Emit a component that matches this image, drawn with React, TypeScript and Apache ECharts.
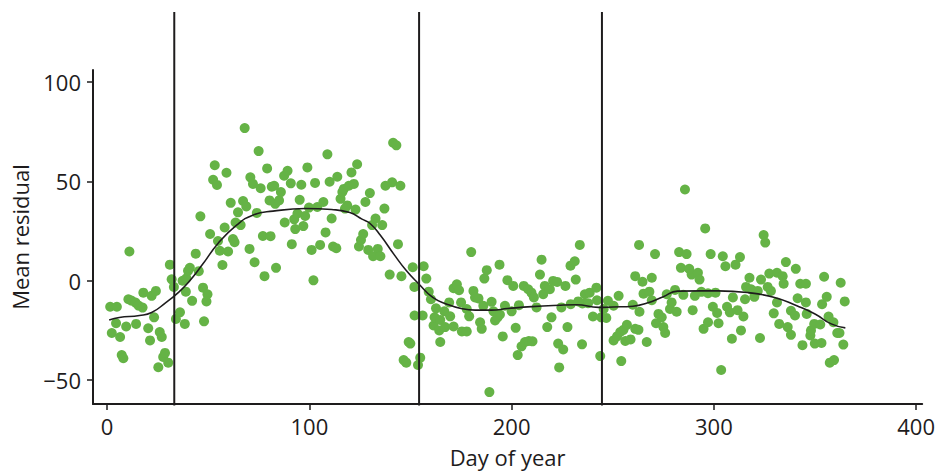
import React, { useEffect, useRef } from "react";
import * as echarts from "echarts";

// [day of year, mean residual]
const residualPoints: number[][] = [
  [1.5,-13.1],[2.3,-26.3],[4.4,-21.4],[4.8,-13.1],[6.4,-28.3],[7.2,-37.4],[8,-39],[9.4,-23],[10.5,-9.3],[11,14.7],[12,-10],[14,-11],[14.3,-21.7],[15.5,-12.5],[17.5,-13.5],[17.9,-6],[20.3,-23.9],[21.2,-30],[22,-7.6],[23.2,-18.4],[24.1,-5.1],[25.3,-43.5],[26,-25.8],[27,-28.3],[27.7,-38.3],[28.6,-36.3],[30.2,-41.2],[31,8.1],[31.9,0.7],[33,-3.1],[34,-19.2],[36,-15.9],[37.3,0],[38.4,-21.7],[38.9,-5.5],[39.2,1.2],[40,5],[40.9,6.5],[42,-10.1],[43.8,13.6],[45.3,4.8],[46.1,32.4],[47.4,-3.5],[47.9,-20.4],[49.1,-10.4],[49.6,-6.8],[50.9,23.5],[52.4,50.8],[53.2,58.1],[54.3,48.2],[54.8,20],[55.7,15.1],[57,7.9],[58.1,26.8],[59,54.3],[59.8,14.7],[61.1,39.2],[62.2,21],[63,19.4],[63.5,29.3],[64.7,34.4],[66,28],[67.2,40.1],[68,76.8],[68.8,37.4],[70.4,16],[70.8,52],[72.1,48.7],[72.9,9.3],[74,34.1],[74.9,65.2],[75.9,46.5],[77,22.5],[77.8,2.3],[79.1,56.5],[80.3,40.4],[80.8,22.4],[81.4,47.3],[82.6,47.8],[83.1,38.7],[83.5,6.5],[85,40.4],[85.9,44.6],[87.5,52.8],[87.8,29.3],[89.2,55.3],[90.8,49],[91.3,18.4],[92.5,30.9],[93,26],[94.1,33.8],[95.2,40.7],[96,48.3],[97,27.5],[97.9,32.6],[99,57],[99.8,36.8],[101.1,15.5],[102,0.2],[102.8,49.2],[103.9,37.1],[105.3,18],[106.9,39.6],[108,24.3],[108.9,63.6],[110,49.8],[111,31.3],[111.7,17.2],[113.3,16.4],[113.8,52.3],[115.4,41.2],[116.3,44.6],[117,46.2],[117.6,36.3],[118.7,37.9],[119.5,47.8],[120.8,54.5],[122,48.7],[122.8,35.8],[123.6,58.6],[124.5,17.2],[125.5,20.5],[126.6,23.5],[127.7,39.6],[129.1,15.5],[129.9,44.1],[131,28],[131.5,12.3],[132.7,31.3],[133.8,16],[135.1,12.3],[136,28],[137.1,36.3],[137.6,47.8],[139.7,3.1],[140.9,49.5],[141.4,69.4],[143,68.1],[143.8,18.4],[145,47.8],[145.5,2.3],[146.6,-39.9],[147.9,-41.2],[149.1,-30.8],[149.9,-31.6],[151.1,6.8],[151.9,-3.1],[152,-17.5],[153.7,-42.4],[154.8,-38.7],[156,-17.5],[156.5,7.3],[157.8,1.1],[159,-5.5],[160.1,-9.3],[161.4,-22.5],[161.9,-18.4],[162.6,-13.9],[164.2,-25],[164.7,-19.7],[164.7,-30.8],[166.7,-15.4],[167.1,-23.3],[169.1,-10.9],[169.6,-17.9],[171.3,-23],[171.3,-3.8],[172.9,-1.8],[174,-4.8],[175,-10.9],[175.4,-25.5],[177.8,-14.2],[177.8,-25.5],[179,-17.9],[180,14.4],[181.1,-5.1],[181.9,-8.4],[183.6,-8.9],[184.4,-20.9],[185.2,-24.2],[186,-12.6],[186.5,1.1],[187.7,5.3],[189,-56],[190.1,-10.6],[191,-15.4],[191.8,-20],[193.1,-18.4],[194,8.1],[194.2,-17],[195.6,-28],[196.7,-12.6],[197.9,0.3],[200,-15.4],[200.8,-2.6],[202,-23.7],[203,-37.4],[203.6,-12.3],[204.9,-33],[206,-2.6],[206.6,-30.8],[208.2,-4.3],[208.5,-30.3],[209.8,-6],[210.3,-30.5],[211,-8.4],[212.3,-13.4],[214,3.1],[214.8,10.6],[215.6,-6.8],[216.4,-2.6],[217.6,-23.3],[218.9,-4.3],[219.7,-18.4],[220.5,-0.1],[222.5,-0.6],[223,-31.6],[223.5,-43.6],[224.6,-13.4],[225.5,-34.6],[226.6,-2.6],[227.6,-23.3],[229.1,7.6],[229.2,-11.8],[231.2,9.8],[231.7,0.6],[232.9,-10.4],[233.7,18],[234.8,-32],[235,-11.4],[236.2,-6.8],[237.8,-11.3],[238.6,-6],[240.2,-18],[241.9,-3.5],[242.2,-9.8],[243.8,-37.9],[244.3,-18.4],[245.5,-14.2],[246.8,-18.7],[247.6,-10.1],[250.4,-12.6],[250.4,-30],[252.1,-28],[252.9,-7.6],[253.7,-25.8],[254.2,-40.4],[255.3,-24.7],[256.2,-30.3],[257,-22.2],[258.8,-29.5],[259.9,-12.1],[261.1,2.3],[261.1,-24.2],[262.7,-24.7],[263,18],[263.2,-15.6],[264.7,-0.5],[265.2,-6.5],[266.8,-30.8],[268.1,-5.5],[269.3,1.5],[269.3,-9.8],[270.9,13.4],[271.4,-21.4],[272.6,-16.7],[274.2,-18.4],[275,-23.3],[275.9,-26.3],[276.7,-6.8],[278.3,-14.2],[279.1,-10.9],[280.8,-4.6],[281.6,-15.6],[282.8,14.4],[283.7,6.5],[284.9,-7.1],[285.7,45.9],[286.5,13.4],[287.8,6],[289,3.1],[289.5,-14.8],[290.6,-7.6],[292.1,4],[292.9,0.6],[293.8,-5.6],[294.9,-24.2],[295.7,26.3],[297.1,-6.3],[297.1,-20.9],[298.4,13.4],[299.5,-13.1],[300.8,-6],[301.6,-16.2],[302.3,-21.4],[303.6,-44.9],[304.4,12.3],[305.7,7.3],[306.5,-13.1],[307.9,-15.9],[308.9,-29.2],[309.4,-8.4],[310.7,8.1],[311.7,-14.8],[312.9,11.9],[313.4,-25],[314.6,-18],[315.4,-9.3],[315.9,-3.1],[317.6,1.5],[318.4,-4.3],[320,-8.1],[321.7,-5.1],[322.8,-28.8],[323.3,0.6],[324.6,23],[325.4,19.2],[326.6,-3.1],[327.4,3.6],[328.2,-5.1],[329.6,-16.4],[331.2,4],[331.2,-10.9],[332.3,-21.7],[334,2.3],[334.5,-1.5],[335.6,9.4],[336.5,-23.3],[338.1,-15.1],[338.1,-27.2],[340.1,-17.5],[340.5,6],[341.4,-8.8],[342.7,-1.5],[343.8,-32.4],[345.5,-1.5],[345.5,-10.9],[345.9,-16.7],[347.7,-27.5],[348,-25],[349.6,-21.7],[349.9,-31.6],[352.6,-22],[353.2,-31.3],[353.5,-11.8],[354.5,2],[355.8,-8.1],[356.7,-18],[357.3,-41.2],[359.1,-20.9],[359.4,-39.9],[361,-26.3],[362.1,-26.3],[362.7,-1],[364,-32.1],[364.7,-10.4],
];

// smoothed trend
const smoothDays = [1, 6, 16, 22, 29, 34, 40, 47, 55, 64, 72, 82, 98, 111, 120, 126, 130, 135, 142, 148, 154, 161, 168, 175, 182, 190, 198, 210, 224, 232, 243, 250, 260, 267, 275, 282, 294, 302, 317, 330, 341, 350, 358, 365];
const smoothValues = [-19.7, -18.5, -17.5, -16, -11, -7, -1, 8, 19, 28, 33, 35, 36.3, 35.8, 34.3, 31, 28.8, 23, 13, 5, -1.5, -8.4, -11.8, -14, -14.8, -14.8, -14, -13, -12.3, -12.1, -13.4, -13.2, -12.8, -11.2, -8, -5.2, -5.1, -5.1, -6, -8.4, -12.6, -16.7, -21.7, -23.7];

// season boundaries (vertical lines)
const boundaryDays = [33, 153.5, 243.5];

const xTicks = [0, 100, 200, 300, 400];
const yTicks = [-50, 0, 50, 100];

const INK = "#1e1c1d";
const FONT = "'Open Sans', 'Noto Sans', sans-serif";

export default function App() {
  const ref = useRef<HTMLDivElement>(null);
  useEffect(() => {
    if (!ref.current) return;
    const chart = echarts.init(ref.current, null, { renderer: "svg" });
    const gridPos = { left: 93, right: 12, bottom: 65 };
    const fmt = (v: number) => String(v).replace("-", "\u2212");
    const option: any = {
      animation: false,
      backgroundColor: "#ffffff",
      grid: [
        { ...gridPos, top: 70, containLabel: false },
        { ...gridPos, top: 12, containLabel: false },
      ],
      xAxis: [
        {
          type: "value",
          gridIndex: 0,
          min: -7,
          max: 403,
          name: "Day of year",
          nameLocation: "middle",
          nameGap: 42,
          nameTextStyle: { fontFamily: FONT, fontSize: 22, color: INK },
          axisLine: { show: true, onZero: false, lineStyle: { color: INK, width: 2 } },
          axisTick: { show: true, length: 6, lineStyle: { color: INK, width: 1.5 }, customValues: xTicks },
          axisLabel: { fontFamily: FONT, fontSize: 22, color: INK, margin: 11, customValues: xTicks, formatter: fmt },
          splitLine: { show: false },
        },
        { type: "value", gridIndex: 1, min: -7, max: 403, show: false },
      ],
      yAxis: [
        {
          type: "value",
          gridIndex: 0,
          min: -62,
          max: 106,
          name: "Mean residual",
          nameLocation: "middle",
          nameGap: 62,
          nameRotate: 90,
          nameTextStyle: { fontFamily: FONT, fontSize: 22, color: INK },
          axisLine: { show: true, onZero: false, lineStyle: { color: INK, width: 2 } },
          axisTick: { show: true, length: 6, lineStyle: { color: INK, width: 1.5 }, customValues: yTicks },
          axisLabel: { fontFamily: FONT, fontSize: 22, color: INK, margin: 12, customValues: yTicks, formatter: fmt },
          splitLine: { show: false },
        },
        { type: "value", gridIndex: 1, min: 0, max: 1, show: false },
      ],
      series: [
        {
          type: "scatter",
          xAxisIndex: 0,
          yAxisIndex: 0,
          data: residualPoints,
          symbolSize: 10,
          itemStyle: { color: "#65b346", opacity: 1 },
          z: 2,
        },
        {
          type: "line",
          xAxisIndex: 0,
          yAxisIndex: 0,
          data: smoothDays.map((d, i) => [d, smoothValues[i]]),
          smooth: 0.5,
          symbol: "none",
          lineStyle: { color: INK, width: 1.6 },
          z: 3,
        },
        ...boundaryDays.map((d) => ({
          type: "line",
          xAxisIndex: 1,
          yAxisIndex: 1,
          data: [[d, 0.006], [d, 1]],
          symbol: "none",
          lineStyle: { color: INK, width: 2 },
          z: 4,
        })),
      ],
    };
    chart.setOption(option);
    return () => chart.dispose();
  }, []);
  return (
    <div
      ref={ref}
      style={{ position: "fixed", left: 0, top: 0, width: 938, height: 473, background: "#fff" }}
    />
  );
}
